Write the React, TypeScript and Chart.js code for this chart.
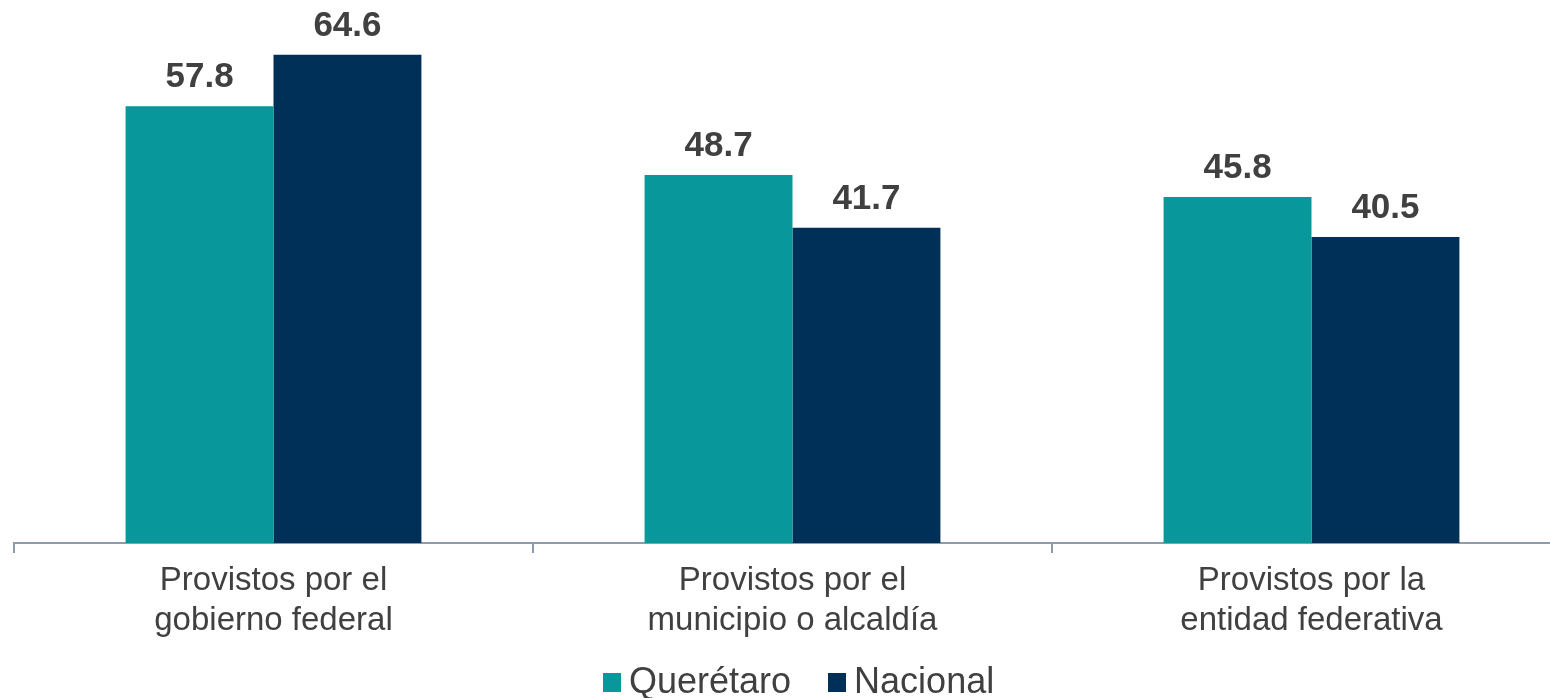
import React, { useEffect, useRef } from "react";
import { Chart, registerables } from "chart.js";

Chart.register(...registerables);

const categories: string[][] = [
  ["Provistos por el", "gobierno federal"],
  ["Provistos por el", "municipio o alcaldía"],
  ["Provistos por la", "entidad federativa"],
];
const seriesNames = ["Querétaro", "Nacional"];
const queretaro = [57.8, 48.7, 45.8];
const nacional = [64.6, 41.7, 40.5];
const colors = ["#08979A", "#003057"];

const FONT = "'Liberation Sans', Arial, sans-serif";
const TEXT = "#404040";
const AXIS = "#8D9CAA";

const dataLabels = {
  id: "dataLabels",
  afterDatasetsDraw(chart: any) {
    const ctx = chart.ctx;
    ctx.save();
    ctx.font = `bold 35px ${FONT}`;
    ctx.fillStyle = TEXT;
    ctx.textAlign = "center";
    ctx.textBaseline = "alphabetic";
    chart.data.datasets.forEach((ds: any, i: number) => {
      const meta = chart.getDatasetMeta(i);
      meta.data.forEach((bar: any, j: number) => {
        ctx.fillText(Number(ds.data[j]).toFixed(1), bar.x, bar.y - 19);
      });
    });
    ctx.restore();
  },
};

export default function App() {
  const ref = useRef<HTMLCanvasElement>(null);
  useEffect(() => {
    document.body.style.margin = "0";
    const chart = new Chart(ref.current!, {
      type: "bar",
      data: {
        labels: categories,
        datasets: [
          { label: seriesNames[0], data: queretaro, backgroundColor: colors[0] },
          { label: seriesNames[1], data: nacional, backgroundColor: colors[1] },
        ],
      },
      options: {
        animation: false,
        responsive: false,
        layout: { padding: { top: 14, left: 14, right: 0, bottom: 49 } },
        datasets: { bar: { categoryPercentage: 0.57, barPercentage: 1 } },
        plugins: { legend: { display: false }, tooltip: { enabled: false } },
        scales: {
          x: {
            grid: {
              display: true,
              drawOnChartArea: false,
              drawTicks: true,
              tickLength: 10,
              color: AXIS,
              lineWidth: 2,
            },
            border: { display: true, color: AXIS, width: 2 },
            ticks: {
              color: TEXT,
              padding: 8,
              maxRotation: 0,
              autoSkip: false,
              font: { family: FONT, size: 33, lineHeight: 1.212 },
            },
          },
          y: { display: false, min: 0, max: 70 },
        },
      },
      plugins: [dataLabels],
    } as any);
    return () => chart.destroy();
  }, []);

  return (
    <div style={{ position: "absolute", left: 0, top: 0, width: 1550, height: 698, overflow: "hidden", background: "#fff" }}>
      <canvas ref={ref} width={1571} height={698} style={{ display: "block" }} />
      <div
        style={{
          position: "absolute",
          left: 603,
          top: 663,
          display: "flex",
          alignItems: "center",
          fontFamily: FONT,
          fontSize: 36,
          lineHeight: "36px",
          color: TEXT,
        }}
      >
        {seriesNames.map((n, i) => (
          <div key={n} style={{ display: "flex", alignItems: "center", marginRight: i === 0 ? 37 : 0 }}>
            <span style={{ display: "inline-block", width: 18, height: 19, background: colors[i], marginRight: 8, marginTop: 2 }} />
            <span>{n}</span>
          </div>
        ))}
      </div>
    </div>
  );
}
